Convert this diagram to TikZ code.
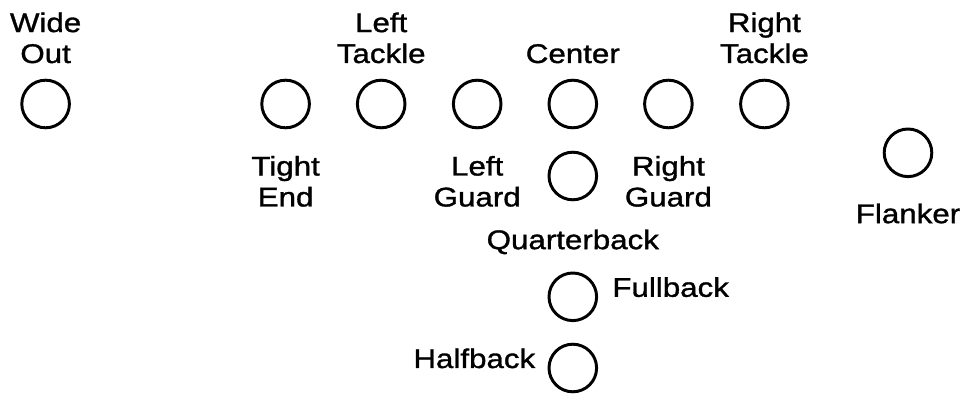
\documentclass[tikz,border=0pt]{standalone}
\usepackage{fontspec}
\setmainfont[FakeStretch=1.16,FakeBold=1.2]{Liberation Sans}
\usepackage{tikz}
\usetikzlibrary{positioning}

\begin{document}
\begin{tikzpicture}[
		player/.style={
			circle,
			draw,
			line width=2.1pt,
			minimum size=1.19cm,
			inner sep=0pt
		},
		role/.style={
			align=center,
			inner sep=0pt,
			font=\fontsize{19.2pt}{22pt}\selectfont
		}
		]
		\useasboundingbox (0,0) rectangle (24.1,9.9);
		
		% Split end
		\node[player] (wideout) at (1.14,7.30) {};
		\node[role,above=0.38cm of wideout] (wideoutname) {Wide\\Out};
		
		% Line
		\node[player] (tightend) at (7.14,7.30) {};
		\node[player] (lefttackle) at (9.53,7.30) {};
		\node[player] (leftguard) at (11.93,7.30) {};
		\node[player] (center) at (14.32,7.30) {};
		\node[player] (rightguard) at (16.71,7.30) {};
		\node[player] (righttackle) at (19.11,7.30) {};
		
		\node[role,below=0.66cm of tightend] (tightendname) {Tight\\End};
		\node[role,above=0.38cm of lefttackle] (lefttacklename) {Left\\Tackle};
		\node[role,below=0.66cm of leftguard] (leftguardname) {Left\\Guard};
		\node[role,above=0.38cm of center] (centername) {Center};
		\node[role,below=0.66cm of rightguard] (rightguardname) {Right\\Guard};
		\node[role,above=0.38cm of righttackle] (righttacklename) {Right\\Tackle};
		
		% Flanker
		\node[player] (flanker) at (22.70,6.08) {};
		\node[role,below=0.63cm of flanker] (flankername) {Flanker};
		
		% Backfield
		\node[player] (quarterback) at (14.32,5.50) {};
		\node[role,below=0.70cm of quarterback] (quarterbackname) {Quarterback};
		
		\node[player] (fullback) at (14.32,2.48) {};
		\node[role,anchor=base west] (fullbackname) at ([xshift=0.35cm]fullback.east) {Fullback};
		
		\node[player] (halfback) at (14.32,0.70) {};
		\node[role,anchor=base east] (halfbackname) at ([xshift=-0.30cm]halfback.west) {Halfback};
		
	\end{tikzpicture}
\end{document}
